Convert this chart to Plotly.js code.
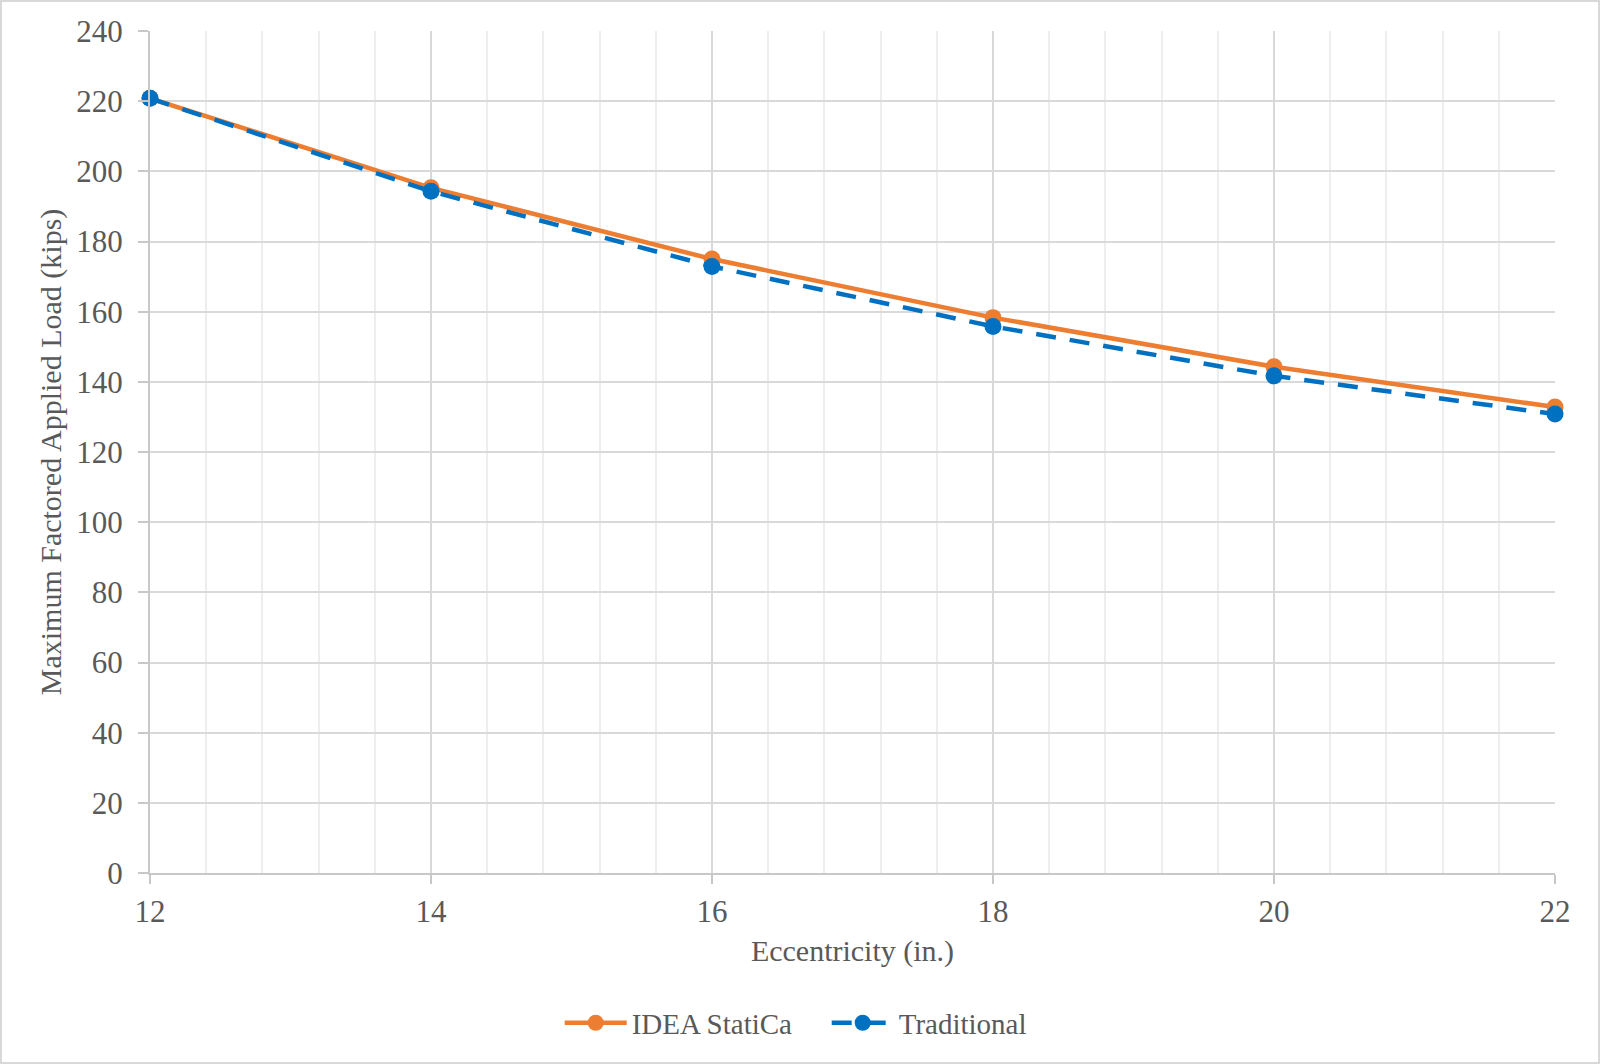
<!DOCTYPE html>
<html>
<head>
<meta charset="utf-8">
<script src="https://cdn.plot.ly/plotly-3.0.1.min.js"></script>
<style>
  body { margin: 0; background: #fff; }
  #myPlot { width: 1600px; height: 1064px; }
</style>
</head>
<body>
<div id="myPlot"></div>
<script>
// eccentricity (in.) and max factored load (kips)
let ecc = [12, 14, 16, 18, 20, 22];
let ideaLoad = [220.8, 195.3, 175.0, 158.3, 144.3, 132.8];
let tradLoad = [220.8, 194.3, 172.9, 155.8, 141.7, 130.8];
let seriesNames = ['IDEA StatiCa', 'Traditional'];

let txt = '#595959';
let fnt = 'Liberation Serif, Times New Roman, serif';

var trace1 = {
  x: ecc,
  y: ideaLoad,
  name: seriesNames[0],
  type: 'scatter',
  mode: 'lines+markers',
  cliponaxis: false,
  line: { color: '#ED7D31', width: 4.5 },
  marker: { color: '#ED7D31', size: 17 }
};
var trace2 = {
  x: ecc,
  y: tradLoad,
  name: seriesNames[1],
  type: 'scatter',
  mode: 'lines+markers',
  cliponaxis: false,
  line: { color: '#0070C0', width: 4.5, dash: '20px,14px' },
  marker: { color: '#0070C0', size: 17 }
};

var layout = {
  width: 1600,
  height: 1064,
  margin: { l: 150, r: 45, t: 31, b: 191 },
  paper_bgcolor: '#fff',
  plot_bgcolor: '#fff',
  font: { family: fnt, size: 30, color: txt },
  showlegend: true,
  legend: {
    orientation: 'h',
    x: 0.2916, xanchor: 'left',
    y: -0.178, yanchor: 'middle',
    font: { family: fnt, size: 29, color: txt },
    itemwidth: 62,
    entrywidth: 190
  },
  xaxis: {
    range: [12, 22],
    tick0: 12, dtick: 2,
    showgrid: true, gridcolor: '#d9d9d9', gridwidth: 2,
    ticks: 'outside', ticklen: 9, tickwidth: 2, tickcolor: '#c8c8c8',
    showline: true, linecolor: '#c8c8c8', linewidth: 2,
    zeroline: false,
    minor: { tick0: 12, dtick: 0.4, showgrid: true, gridcolor: '#eeeeee', gridwidth: 2, ticks: '' },
    ticklabelstandoff: 1,
    tickfont: { family: fnt, size: 31, color: txt },
    title: { text: 'Eccentricity (in.)', standoff: 12, font: { family: fnt, size: 30, color: txt } }
  },
  yaxis: {
    range: [0, 240],
    tick0: 0, dtick: 20,
    showgrid: true, gridcolor: '#d9d9d9', gridwidth: 2,
    ticks: 'outside', ticklen: 10, tickwidth: 2, tickcolor: '#c8c8c8',
    showline: true, linecolor: '#c8c8c8', linewidth: 2,
    zeroline: false,
    ticklabelstandoff: 9,
    tickfont: { family: fnt, size: 31, color: txt },
    title: { text: 'Maximum Factored Applied Load (kips)', standoff: 6, font: { family: fnt, size: 30, color: txt } }
  },
  shapes: [{
    type: 'rect', xref: 'paper', yref: 'paper',
    x0: -149 / 1405, x1: 1449 / 1405,
    y0: -190 / 842, y1: 872 / 842,
    line: { color: '#d9d9d9', width: 2 },
    layer: 'below'
  }]
};

Plotly.newPlot('myPlot', [trace1, trace2], layout, { displayModeBar: false });
</script>
</body>
</html>
